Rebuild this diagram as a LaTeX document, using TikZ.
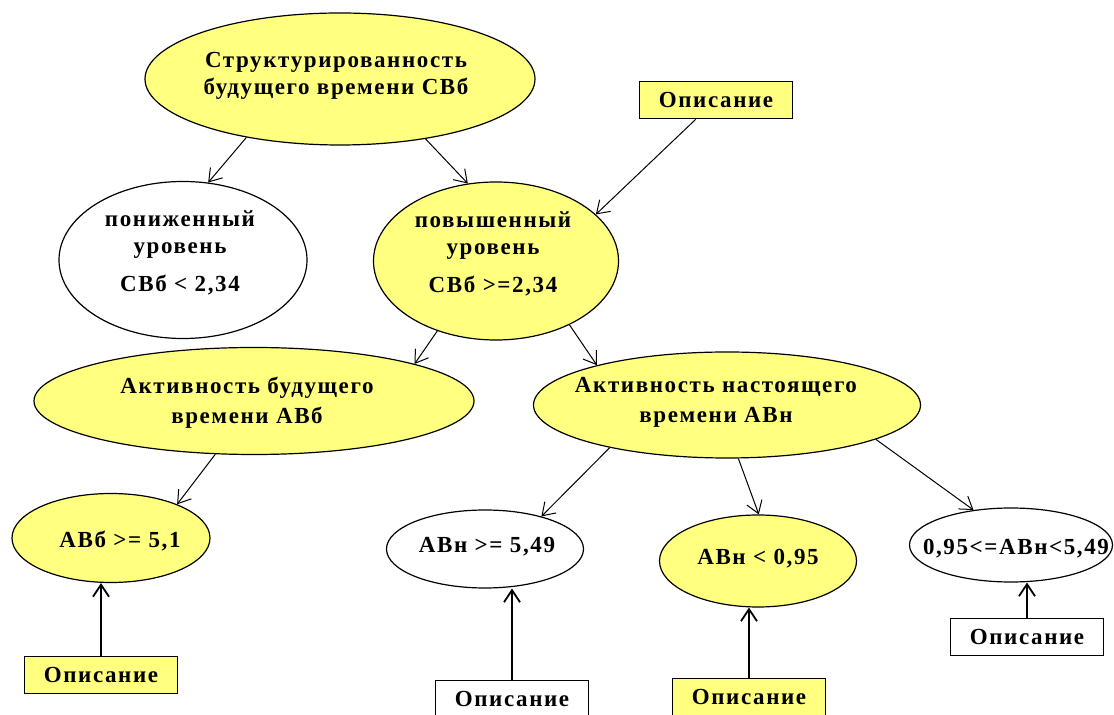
\documentclass[tikz,border=0pt]{standalone}
\usepackage{fontspec}
\setmainfont{Liberation Serif}[LetterSpace=7]
\usetikzlibrary{shapes.geometric, arrows.meta}
\definecolor{lightyel}{RGB}{255,255,128}

\begin{document}
\begin{tikzpicture}[x=0.5pt, y=-0.5pt,
    oval/.style={ellipse, draw, inner sep=0pt, line width=0.6pt},
    descbox/.style={rectangle, draw, line width=0.8pt, minimum width=76.5pt, minimum height=18.5pt, inner sep=0pt, font=\bfseries\fontsize{11.5pt}{13.5pt}\selectfont},
    txt/.style={font=\bfseries\fontsize{11.5pt}{13.5pt}\selectfont, align=center, inner sep=0pt},
    arr/.style={-{Straight Barb[length=6pt, width=8pt]}, line width=0.5pt},
    uparr/.style={arr, line width=0.9pt}]
    \useasboundingbox (0,0) rectangle (1114,715);

    % ellipses
    \node (struct) [oval, fill=lightyel, minimum width=195pt, minimum height=66pt] at (340,79) {};
    \node (low) [oval, fill=white, minimum width=124pt, minimum height=78.5pt] at (183,260) {};
    \node (high) [oval, fill=lightyel, minimum width=122.5pt, minimum height=79pt] at (496,261) {};
    \node (fut) [oval, fill=lightyel, minimum width=220pt, minimum height=53.5pt] at (254,401) {};
    \node (pres) [oval, fill=lightyel, minimum width=193.5pt, minimum height=53pt] at (727,405) {};
    \node (fut51) [oval, fill=lightyel, minimum width=99pt, minimum height=44.5pt] at (111,538) {};
    \node (pres549) [oval, fill=white, minimum width=98.5pt, minimum height=39pt] at (485,549) {};
    \node (pres095) [oval, fill=lightyel, minimum width=98.5pt, minimum height=46pt] at (758,561) {};
    \node (presmid) [oval, fill=white, minimum width=101.5pt, minimum height=37pt] at (1011,545) {};

    % texts
    \node (struct-t) [txt] at (336,76) {Структурированность\\будущего времени СВб};
    \node (low-t) [txt] at (180,253) {пониженный\\уровень\\[5.5pt]СВб < 2,34};
    \node (high-t) [txt] at (493,254) {повышенный\\уровень\\[5.5pt]СВб >=2,34};
    \node (fut-t) [txt] at (247,403) {Активность будущего\\[1.5pt]времени АВб};
    \node (pres-t) [txt] at (716,402) {Активность настоящего\\[1.5pt]времени АВн};
    \node (fut51-t) [txt] at (120,541) {АВб >= 5,1};
    \node (pres549-t) [txt] at (487,547) {АВн >= 5,49};
    \node (pres095-t) [txt] at (758,559) {АВн < 0,95};
    \node (presmid-t) [txt] at (1016,549) {0,95<=АВн<5,49};

    % boxes
    \node (desc1) [descbox, fill=lightyel] at (716,100) {Описание};
    \node (desc2) [descbox, fill=lightyel] at (101,675) {Описание};
    \node (desc3) [descbox, fill=white] at (512,699) {Описание};
    \node (desc4) [descbox, fill=lightyel] at (749,697) {Описание};
    \node (desc5) [descbox, fill=white] at (1027,637) {Описание};

    % arrows
    \draw[arr] (struct.212) -- (low.72);
    \draw[arr] (struct.325) -- (high.110);
    \draw[arr] (desc1) -- (high.25);
    \draw[arr] (high.230) -- (fut.13);
    \draw[arr] (high.319) -- (pres.163);
    \draw[arr] (fut.234) -- (fut51.27);
    \draw[arr] (pres.200) -- (pres549.30);
    \draw[arr] (pres.282) -- (pres095.89);
    \draw[arr] (pres.347) -- (presmid.137);

    \draw[uparr] (desc2) -- (desc2 |- fut51.south);
    \draw[uparr] (desc3) -- (desc3 |- pres549.south);
    \draw[uparr] (desc4) -- (desc4 |- pres095.south);
    \draw[uparr] (desc5) -- (desc5 |- presmid.south);
\end{tikzpicture}
\end{document}
